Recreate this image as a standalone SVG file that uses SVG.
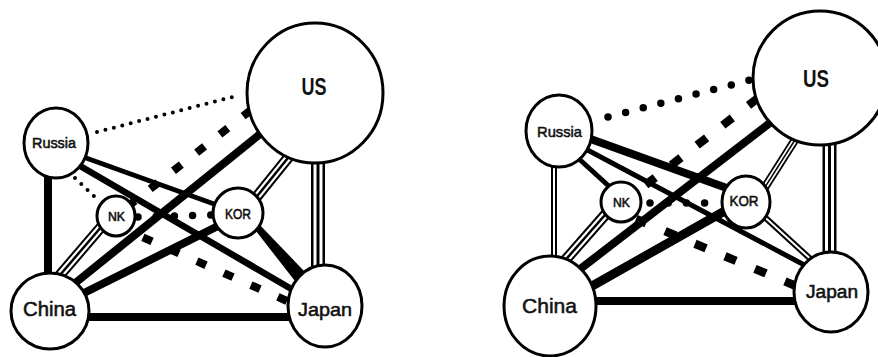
<svg xmlns="http://www.w3.org/2000/svg" width="878" height="357" viewBox="0 0 878 357">
<style>
.bg{fill:#fff}
.node ellipse{fill:#fff;stroke:#000;stroke-width:3}
.lbl{font-family:"Liberation Sans",Arial,sans-serif;fill:#111;stroke:#111;stroke-width:0.55;text-anchor:middle}
.us{font-family:"Liberation Sans",Arial,sans-serif;font-weight:bold;fill:#111;text-anchor:middle}
.conn line,.conn polygon{fill:#000}
.s{stroke:#000}
.dotS{stroke:#000;stroke-width:4;stroke-dasharray:0 8.7;stroke-linecap:round}
.dotL{stroke:#000;stroke-width:7.5;stroke-dasharray:0 18.2;stroke-linecap:round}
.dash{stroke:#000;stroke-width:8;stroke-dasharray:10 19.5}
.dashR{stroke:#000;stroke-width:8.5;stroke-dasharray:12 20.5}
.tB{stroke:#000}
.tW{stroke:#fff}
.tC{stroke:#000}
</style>
<rect class="bg" x="0" y="0" width="878" height="357"/>

<!-- LEFT DIAGRAM -->
<g id="left-connectors" class="conn">
  <line class="tB" x1="318" y1="150" x2="318" y2="272" stroke-width="14"/>
  <line class="tW" x1="318" y1="150" x2="318" y2="272" stroke-width="9"/>
  <line class="tC" x1="318" y1="150" x2="318" y2="272" stroke-width="3"/>
  <line class="tB" x1="300" y1="143" x2="250" y2="205" stroke-width="11"/>
  <line class="tW" x1="300" y1="143" x2="250" y2="205" stroke-width="7"/>
  <line class="tC" x1="300" y1="143" x2="250" y2="205" stroke-width="2.5"/>
  <line class="tB" x1="108" y1="219" x2="54" y2="282" stroke-width="11"/>
  <line class="tW" x1="108" y1="219" x2="54" y2="282" stroke-width="7"/>
  <line class="tC" x1="108" y1="219" x2="54" y2="282" stroke-width="2.5"/>
  <line class="s" x1="48" y1="170" x2="48" y2="280" stroke-width="8"/>
  <line class="s" x1="75" y1="154" x2="228" y2="209" stroke-width="5"/>
  <line class="s" x1="75" y1="163" x2="300" y2="294" stroke-width="6.5"/>
  <line class="s" x1="270" y1="126" x2="74" y2="284" stroke-width="8"/>
  <line class="s" x1="222" y1="224" x2="80" y2="295" stroke-width="8"/>
  <line class="s" x1="85" y1="317" x2="292" y2="317" stroke-width="8"/>
  <polygon points="260.6,225.7 308.3,275.4 297.7,284.6 255.4,230.3"/>
  <line class="dotS" x1="97" y1="132" x2="240" y2="95"/>
  <line class="dotS" x1="75" y1="178" x2="99" y2="201"/>
  <line class="dotL" x1="138" y1="217" x2="212" y2="215"/>
  <line class="dash" x1="251" y1="110" x2="131" y2="204"/>
  <line class="dash" x1="287" y1="301" x2="133" y2="233"/>
</g>
<g id="L-US" class="node"><ellipse cx="315" cy="93" rx="68" ry="70"/><text class="us" x="314" y="95" font-size="23" textLength="25" lengthAdjust="spacingAndGlyphs">US</text></g>
<g id="L-Russia" class="node"><ellipse cx="56" cy="143" rx="32" ry="35"/><text class="lbl" x="54" y="148" font-size="14" textLength="44" lengthAdjust="spacingAndGlyphs">Russia</text></g>
<g id="L-NK" class="node"><ellipse cx="116" cy="216" rx="19" ry="20"/><text class="lbl" x="116.5" y="221" font-size="12" textLength="17" lengthAdjust="spacingAndGlyphs">NK</text></g>
<g id="L-KOR" class="node"><ellipse cx="238" cy="213" rx="25" ry="25"/><text class="lbl" x="238" y="219" font-size="14" textLength="26" lengthAdjust="spacingAndGlyphs">KOR</text></g>
<g id="L-China" class="node"><ellipse cx="50" cy="311" rx="39" ry="38"/><text class="lbl" x="49.5" y="316" font-size="19.5" textLength="53" lengthAdjust="spacingAndGlyphs">China</text></g>
<g id="L-Japan" class="node"><ellipse cx="325" cy="306" rx="37" ry="41"/><text class="lbl" x="325" y="316" font-size="19" textLength="54" lengthAdjust="spacingAndGlyphs">Japan</text></g>

<!-- RIGHT DIAGRAM -->
<g id="right-connectors" class="conn">
  <line class="tB" x1="829.5" y1="135" x2="829.5" y2="258" stroke-width="14"/>
  <line class="tW" x1="829.5" y1="135" x2="829.5" y2="258" stroke-width="9"/>
  <line class="tC" x1="829.5" y1="135" x2="829.5" y2="258" stroke-width="3"/>
  <line class="tB" x1="800" y1="132" x2="760" y2="195" stroke-width="8.5"/>
  <line class="tW" x1="800" y1="132" x2="760" y2="195" stroke-width="5"/>
  <line class="tC" x1="800" y1="132" x2="760" y2="195" stroke-width="1.5"/>
  <line class="tB" x1="612" y1="207" x2="561" y2="265" stroke-width="11"/>
  <line class="tW" x1="612" y1="207" x2="561" y2="265" stroke-width="7"/>
  <line class="tC" x1="612" y1="207" x2="561" y2="265" stroke-width="2.5"/>
  <line class="tB" x1="554" y1="160" x2="554" y2="262" stroke-width="6"/>
  <line class="tW" x1="554" y1="160" x2="554" y2="262" stroke-width="2"/>
  <line class="tB" x1="758" y1="211" x2="816" y2="264" stroke-width="6"/>
  <line class="tW" x1="758" y1="211" x2="816" y2="264" stroke-width="2"/>
  <line class="s" x1="585" y1="137" x2="735" y2="191" stroke-width="8"/>
  <line class="s" x1="580" y1="146" x2="810" y2="268" stroke-width="5"/>
  <line class="s" x1="578" y1="158" x2="612" y2="189" stroke-width="5"/>
  <line class="s" x1="775" y1="119" x2="575" y2="273" stroke-width="8"/>
  <line class="s" x1="730" y1="208" x2="585" y2="290" stroke-width="9"/>
  <line class="s" x1="592" y1="301" x2="798" y2="301" stroke-width="8"/>
  <line class="dotL" x1="608" y1="117" x2="750" y2="80" stroke-width="8"/>
  <line class="dotL" x1="650" y1="203" x2="722" y2="203"/>
  <line class="dashR" x1="758" y1="98" x2="634" y2="194"/>
  <line class="dashR" x1="796" y1="286" x2="636" y2="219"/>
</g>
<g id="R-US" class="node"><ellipse cx="820" cy="78" rx="67" ry="67"/><text class="us" x="816" y="87" font-size="24" textLength="26" lengthAdjust="spacingAndGlyphs">US</text></g>
<g id="R-Russia" class="node"><ellipse cx="559" cy="131" rx="33" ry="36"/><text class="lbl" x="559.5" y="137" font-size="15" textLength="45" lengthAdjust="spacingAndGlyphs">Russia</text></g>
<g id="R-NK" class="node"><ellipse cx="621" cy="202" rx="20" ry="20"/><text class="lbl" x="621.5" y="207" font-size="13" textLength="17" lengthAdjust="spacingAndGlyphs">NK</text></g>
<g id="R-KOR" class="node"><ellipse cx="746" cy="202" rx="24" ry="26"/><text class="lbl" x="744" y="206" font-size="14" textLength="29" lengthAdjust="spacingAndGlyphs">KOR</text></g>
<g id="R-China" class="node"><ellipse cx="550" cy="306" rx="46" ry="50"/><text class="lbl" x="549.5" y="313" font-size="21" textLength="55" lengthAdjust="spacingAndGlyphs">China</text></g>
<g id="R-Japan" class="node"><ellipse cx="831" cy="292" rx="37" ry="40"/><text class="lbl" x="832" y="298" font-size="18" textLength="52" lengthAdjust="spacingAndGlyphs">Japan</text></g>
</svg>
